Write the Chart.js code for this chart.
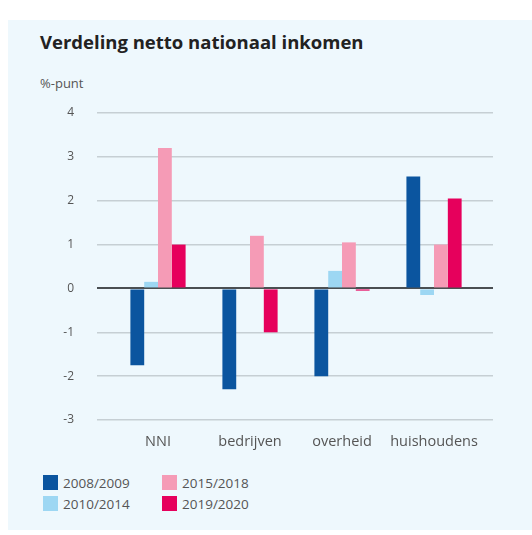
<!DOCTYPE html>
<html>
<head>
<meta charset="utf-8">
<script src="https://cdn.jsdelivr.net/npm/chart.js@4.4.1/dist/chart.umd.min.js"></script>
<style>
  body { margin: 0; background: #fff; font-family: "Open Sans", sans-serif; }
  #panel { position: absolute; left: 8px; top: 20px; width: 524px; height: 510px; background: #eef8fd; }
  #title { position: absolute; left: 40px; top: 29px; font-size: 18.5px; font-weight: bold; color: #222; }
  #unit { position: absolute; left: 40px; top: 74px; font-size: 13px; color: #555; }
  #wrap { position: absolute; left: 0; top: 0; width: 532px; height: 460px; }
  #legend { position: absolute; left: 43px; top: 474px; display: grid; grid-template-columns: 119px 119px; row-gap: 4px; font-size: 13.5px; color: #555; }
  #legend div { display: flex; align-items: center; height: 17px; }
  #legend span { display: inline-block; width: 15px; height: 15px; margin-right: 5px; }
</style>
</head>
<body>
<div id="panel"></div>
<div id="title">Verdeling netto nationaal inkomen</div>
<div id="unit">%-punt</div>
<div id="wrap"><canvas id="chart"></canvas></div>
<div id="legend"></div>
<script>
// categories and series (%-punt)
const categories = ['NNI', 'bedrijven', 'overheid', 'huishoudens'];
const seriesNames = ['2008/2009', '2010/2014', '2015/2018', '2019/2020'];
const s2008 = [-1.75, -2.3, -2.0, 2.55];
const s2010 = [0.15, 0, 0.4, -0.15];
const s2015 = [3.2, 1.2, 1.05, 1.0];
const s2019 = [1.0, -1.0, -0.05, 2.05];
const yTicks = [4, 3, 2, 1, 0, -1, -2, -3];
const colors = ['#0b559f', '#9dd7f3', '#f59bb6', '#e6005c'];

const allSeries = [s2008, s2010, s2015, s2019];

// legend in two columns (column-wise order)
const legend = document.getElementById('legend');
[0, 2, 1, 3].forEach(i => {
  const d = document.createElement('div');
  d.innerHTML = '<span style="background:' + colors[i] + '"></span>' + seriesNames[i];
  legend.appendChild(d);
});

const ctx = document.getElementById('chart').getContext('2d');
new Chart(ctx, {
  type: 'bar',
  data: {
    datasets: allSeries.map((vals, i) => ({
      label: seriesNames[i],
      data: vals.map((v, j) => ({ x: j, y: v })),
      backgroundColor: colors[i],
      borderWidth: 0
    }))
  },
  options: {
    responsive: true,
    maintainAspectRatio: false,
    animation: false,
    layout: { padding: { top: 113, right: 39, left: 0, bottom: 0 } },
    plugins: { legend: { display: false }, tooltip: { enabled: false } },
    datasets: { bar: { categoryPercentage: 0.6, barPercentage: 1 } },
    scales: {
      x: {
        type: 'linear',
        offset: false,
        min: -0.663,
        max: 3.641,
        grid: { display: false, drawTicks: false },
        border: { display: false },
        afterBuildTicks: (scale) => { scale.ticks = categories.map((c, i) => ({ value: i })); },
        afterFit: (scale) => { scale.height = 40; },
        ticks: {
          padding: 13,
          autoSkip: false,
          maxRotation: 0,
          color: '#555',
          font: { family: 'Open Sans', size: 14.5 },
          callback: (v) => categories[v]
        }
      },
      y: {
        min: -3,
        max: 4,
        afterBuildTicks: (scale) => { scale.ticks = yTicks.map(v => ({ value: v })); },
        afterFit: (scale) => { scale.width = 97; },
        border: { display: false },
        grid: {
          drawTicks: false,
          color: (c) => c.tick && c.tick.value === 0 ? '#4a4f52' : '#c6cfd4',
          lineWidth: (c) => c.tick && c.tick.value === 0 ? 2 : 1.5
        },
        ticks: {
          padding: 23,
          color: '#555',
          font: { family: 'Open Sans', size: 12 },
          callback: (v) => v < 0 ? '-' + Math.abs(v) : String(v)
        }
      }
    }
  }
});
</script>
</body>
</html>
